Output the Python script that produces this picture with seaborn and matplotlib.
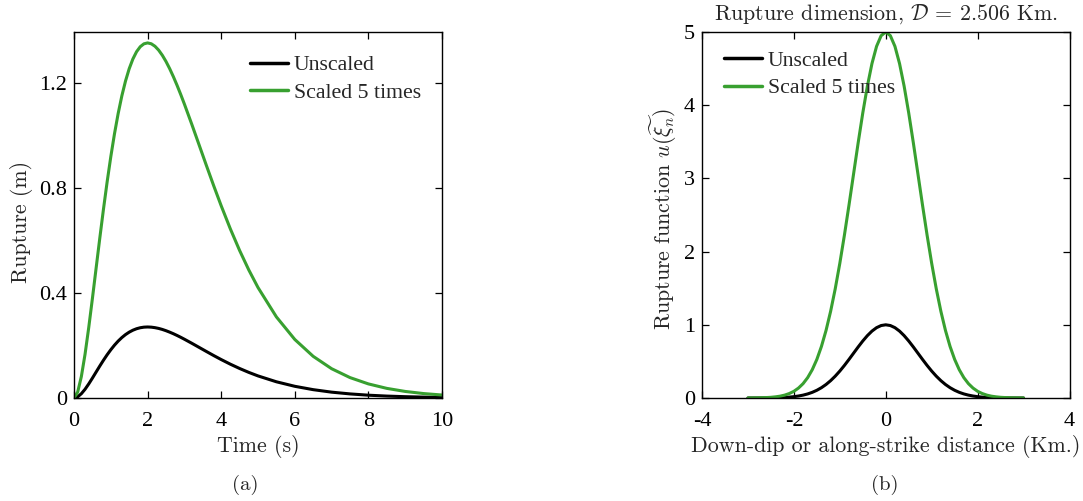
import matplotlib
matplotlib.use("Agg")
import matplotlib.pyplot as plt
import seaborn as sns
import pandas as pd

# ---- data ----
time_s = [0, 0.1, 0.2, 0.3, 0.4, 0.5, 0.6, 0.7, 0.8, 0.9,
          1.0, 1.1, 1.2, 1.3, 1.4, 1.5, 1.6, 1.7, 1.8, 1.9,
          2.0, 2.1, 2.2, 2.3, 2.4, 2.5, 2.6, 2.7, 2.8, 2.9,
          3.0, 3.2, 3.4, 3.6, 3.8, 4.0, 4.25, 4.5, 4.75, 5.0,
          5.5, 6.0, 6.5, 7.0, 7.5, 8.0, 8.5, 9.0, 9.5, 10.0]
rupture_unscaled = [0, 0.0045, 0.0164, 0.0333, 0.0536, 0.0758, 0.0988, 0.1217, 0.1438, 0.1647,
                    0.1839, 0.2014, 0.2169, 0.2303, 0.2417, 0.2510, 0.2584, 0.2640, 0.2678, 0.2700,
                    0.2707, 0.2700, 0.2681, 0.2652, 0.2613, 0.2565, 0.2510, 0.2450, 0.2384, 0.2314,
                    0.2240, 0.2087, 0.1929, 0.1771, 0.1615, 0.1465, 0.1288, 0.1125, 0.0976, 0.0842,
                    0.0618, 0.0446, 0.0318, 0.0223, 0.0156, 0.0107, 0.0073, 0.0050, 0.0034, 0.0023]
rupture_scaled = [0, 0.0226, 0.0819, 0.1667, 0.2681, 0.3791, 0.4939, 0.6083, 0.7189, 0.8233,
                  0.9197, 1.0069, 1.0843, 1.1515, 1.2083, 1.2551, 1.2921, 1.3199, 1.3389, 1.3499,
                  1.3534, 1.3501, 1.3407, 1.3259, 1.3063, 1.2826, 1.2552, 1.2248, 1.1919, 1.1569,
                  1.1202, 1.0435, 0.9645, 0.8853, 0.8076, 0.7326, 0.6441, 0.5624, 0.4880, 0.4211,
                  0.3091, 0.2231, 0.1588, 0.1117, 0.0778, 0.0537, 0.0367, 0.0250, 0.0169, 0.0114]

distance_km = [-3.0, -2.9, -2.8, -2.7, -2.6, -2.5, -2.4, -2.3, -2.2, -2.1, -2.0, -1.9, -1.8,
               -1.7, -1.6, -1.5, -1.4, -1.3, -1.2, -1.1, -1.0, -0.9, -0.8, -0.7, -0.6, -0.5,
               -0.4, -0.3, -0.2, -0.1, 0.0, 0.1, 0.2, 0.3, 0.4, 0.5, 0.6, 0.7, 0.8, 0.9, 1.0,
               1.1, 1.2, 1.3, 1.4, 1.5, 1.6, 1.7, 1.8, 1.9, 2.0, 2.1, 2.2, 2.3, 2.4, 2.5, 2.6,
               2.7, 2.8, 2.9, 3.0]
func_unscaled = [0.0001, 0.0002, 0.0004, 0.0007, 0.0012, 0.0019, 0.0032, 0.0050, 0.0079,
                 0.0122, 0.0183, 0.0271, 0.0392, 0.0556, 0.0773, 0.1054, 0.1409, 0.1845,
                 0.2369, 0.2982, 0.3679, 0.4449, 0.5273, 0.6126, 0.6977, 0.7788, 0.8521,
                 0.9139, 0.9608, 0.9900, 1.0, 0.9900, 0.9608, 0.9139, 0.8521, 0.7788, 0.6977,
                 0.6126, 0.5273, 0.4449, 0.3679, 0.2982, 0.2369, 0.1845, 0.1409, 0.1054,
                 0.0773, 0.0556, 0.0392, 0.0271, 0.0183, 0.0122, 0.0079, 0.0050, 0.0032,
                 0.0019, 0.0012, 0.0007, 0.0004, 0.0002, 0.0001]
func_scaled = [0.0005, 0.001, 0.002, 0.0035, 0.006, 0.0095, 0.016, 0.025, 0.0395, 0.061,
               0.0915, 0.1355, 0.196, 0.278, 0.3865, 0.527, 0.7045, 0.9225, 1.1845, 1.491,
               1.8395, 2.2245, 2.6365, 3.063, 3.4885, 3.894, 4.2605, 4.5695, 4.804, 4.950,
               5.0, 4.950, 4.804, 4.5695, 4.2605, 3.894, 3.4885, 3.063, 2.6365, 2.2245,
               1.8395, 1.491, 1.1845, 0.9225, 0.7045, 0.527, 0.3865, 0.278, 0.196, 0.1355,
               0.0915, 0.061, 0.0395, 0.025, 0.016, 0.0095, 0.006, 0.0035, 0.002, 0.001,
               0.0005]

series_labels = ["Unscaled", "Scaled 5 times"]
series_colors = ["#000000", "#38a030"]
left_yticks = [0, 0.4, 0.8, 1.2]
left_ytick_labels = ["0", "0.4", "0.8", "1.2"]
left_xticks = [0, 2, 4, 6, 8, 10]
right_xticks = [-4, -2, 0, 2, 4]
right_yticks = [0, 1, 2, 3, 4, 5]

# ---- style ----
sns.set_theme(style="ticks")
plt.rcParams["font.family"] = ["Liberation Serif", "DejaVu Serif"]
plt.rcParams["mathtext.fontset"] = "cm"
plt.rcParams["axes.unicode_minus"] = False
plt.rcParams["axes.linewidth"] = 1.0
plt.rcParams["axes.edgecolor"] = "black"
plt.rcParams["lines.solid_joinstyle"] = "round"

LABEL_FONT = ["cmr10", "DejaVu Serif"]
TICK_SIZE = 16
LABEL_SIZE = 15.8
LEGEND_SIZE = 15.7

fig = plt.figure(figsize=(10.83, 5.01), dpi=100)
ax1 = fig.add_axes([74 / 1083, 1 - 398 / 501, 368 / 1083, 366 / 501])
ax2 = fig.add_axes([702 / 1083, 1 - 398 / 501, 367.5 / 1083, 366 / 501])

df_a = pd.DataFrame({
    "t": time_s * 2,
    "u": rupture_unscaled + rupture_scaled,
    "series": [series_labels[0]] * len(time_s) + [series_labels[1]] * len(time_s),
})
df_b = pd.DataFrame({
    "x": distance_km * 2,
    "u": func_unscaled + func_scaled,
    "series": [series_labels[0]] * len(distance_km) + [series_labels[1]] * len(distance_km),
})
palette = dict(zip(series_labels, series_colors))

sns.lineplot(data=df_a, x="t", y="u", hue="series", palette=palette, ax=ax1,
             linewidth=2.2, sort=False, estimator=None)
sns.lineplot(data=df_b, x="x", y="u", hue="series", palette=palette, ax=ax2,
             linewidth=2.2, sort=False, estimator=None)

for ax in (ax1, ax2):
    ax.tick_params(direction="in", length=5, width=0.9, top=True, right=True,
                   labelsize=TICK_SIZE, colors="black")
    ax.tick_params(axis="x", pad=10)
    ax.tick_params(axis="y", pad=5)
    for s in ax.spines.values():
        s.set_visible(True)
        s.set_color("black")

ax1.set_xlim(0, 10)
ax1.set_ylim(0, 1.395)
ax1.set_xticks(left_xticks)
ax1.set_xticklabels([str(v) for v in left_xticks])
ax1.set_yticks(left_yticks)
ax1.set_yticklabels(left_ytick_labels)
ax1.set_xlabel("Time (s)", fontfamily=LABEL_FONT, fontsize=LABEL_SIZE)
ax1.set_ylabel("Rupture (m)", fontfamily=LABEL_FONT, fontsize=LABEL_SIZE)
ax1.xaxis.set_label_coords(0.5, -0.1)
ax1.yaxis.set_label_coords(-0.112, 0.48)

ax2.set_xlim(-4, 4)
ax2.set_ylim(0, 5)
ax2.set_xticks(right_xticks)
ax2.set_xticklabels([str(v) for v in right_xticks])
ax2.set_yticks(right_yticks)
ax2.set_yticklabels([str(v) for v in right_yticks])
ax2.set_xlabel("Down-dip or along-strike distance (Km.)", fontfamily=LABEL_FONT,
               fontsize=LABEL_SIZE)
ax2.set_ylabel(r"Rupture function $u(\widetilde{\xi_n})$", fontfamily=LABEL_FONT,
               fontsize=LABEL_SIZE)
ax2.xaxis.set_label_coords(0.5, -0.1)
ax2.yaxis.set_label_coords(-0.0615, 0.49)
ax2.set_title(r"Rupture dimension, $\mathcal{D}$ = 2.506 Km.", fontfamily=LABEL_FONT,
              fontsize=LABEL_SIZE, pad=8.6)

leg_kw = dict(frameon=False, fontsize=LEGEND_SIZE, handlelength=1.75,
              handletextpad=0.25, borderaxespad=0.0, borderpad=0.0, labelspacing=0.34)
leg1 = ax1.legend(loc="upper left", bbox_to_anchor=(0.478, 0.937), **leg_kw)
leg2 = ax2.legend(loc="upper left", bbox_to_anchor=(0.060, 0.950), **leg_kw)
for leg in (leg1, leg2):
    for line in leg.get_lines():
        line.set_linewidth(2.5)

fig.text(245 / 1083, 1 - 485 / 501, "(a)", fontfamily=LABEL_FONT, fontsize=15,
         ha="center", va="center")
fig.text(885 / 1083, 1 - 485 / 501, "(b)", fontfamily=LABEL_FONT, fontsize=15,
         ha="center", va="center")

fig.savefig("out.png", dpi=100)
